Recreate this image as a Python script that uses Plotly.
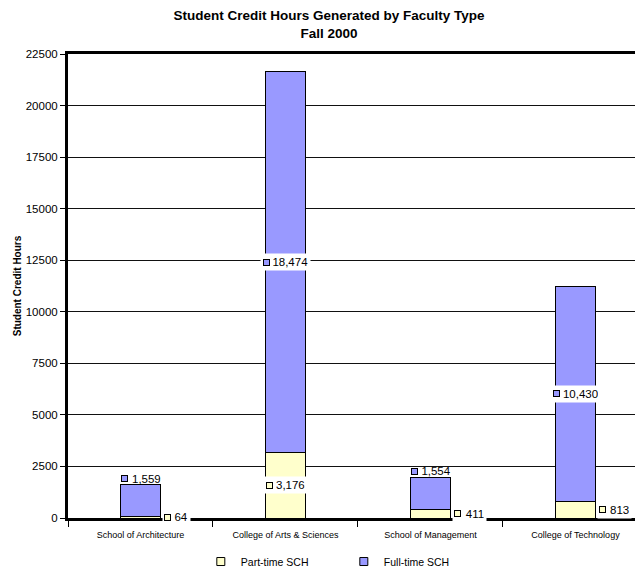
import plotly.graph_objects as go

# ---- data ----
categories = ["School of Architecture", "College of Arts & Sciences",
              "School of Management", "College of Technology"]
part_time = [64, 3176, 411, 813]
full_time = [1559, 18474, 1554, 10430]
series_names = ["Part-time SCH", "Full-time SCH"]
y_ticks = [0, 2500, 5000, 7500, 10000, 12500, 15000, 17500, 20000, 22500]

# ---- styles ----
PART_COLOR = "#FFFFCC"
FULL_COLOR = "#9999FF"
FONT = "Arial, Liberation Sans, sans-serif"
BAR_W = 0.28
PX_PER_CAT = 146.0
full_label_mode = ["above", "center", "above", "center"]
part_label_mode = ["right", "center", "right", "right"]

fig = go.Figure()
fig.add_trace(go.Bar(x=categories, y=part_time, name=series_names[0], width=BAR_W,
                     marker=dict(color=PART_COLOR, line=dict(color="black", width=1)),
                     showlegend=False))
fig.add_trace(go.Bar(x=categories, y=full_time, name=series_names[1], width=BAR_W,
                     marker=dict(color=FULL_COLOR, line=dict(color="black", width=1)),
                     showlegend=False))
# legend entries
for nm, col in zip(series_names, [PART_COLOR, FULL_COLOR]):
    fig.add_trace(go.Scatter(x=[None], y=[None], mode="markers", name=nm,
                             marker=dict(symbol="square", size=8, color=col,
                                         line=dict(color="black", width=1))))

LBL_FS = 11.5
PAD = 2
SQ = 9  # room reserved for the square


def text_w(s, fs):
    w = 0.0
    for ch in s:
        w += 0.278 if ch in ",." else 0.556
    return w * fs


annotations = []
half_bar_px = BAR_W * PX_PER_CAT / 2


def add_label(xc, y, val, color, mode):
    txt = f"{val:,}"
    W = SQ + text_w(txt, LBL_FS) + 1
    if mode == "center":
        xanchor, xshift, yshift = "center", 0, 0
        left = -W / 2 - PAD
        bg = "white"
    elif mode == "right":
        xanchor, xshift, yshift = "left", half_bar_px + 1.5, 0
        left = xshift
        bg = "white"
    else:  # above
        xanchor, xshift, yshift = "left", -half_bar_px - PAD + 1, 6
        left = xshift
        bg = "rgba(0,0,0,0)"
    annotations.append(dict(x=xc, y=y, xref="x", yref="y", text=txt, showarrow=False,
                            xanchor=xanchor, yanchor="middle", xshift=xshift, yshift=yshift,
                            width=W, align="right", bgcolor=bg, borderpad=PAD,
                            font=dict(size=LBL_FS, family=FONT, color="black")))
    annotations.append(dict(x=xc, y=y, xref="x", yref="y", text=" ", showarrow=False,
                            xanchor="left", yanchor="middle", xshift=left + PAD,
                            yshift=yshift, width=5, height=5, borderpad=0, borderwidth=1,
                            bgcolor=color, bordercolor="black", font=dict(size=1)))


for i, cat in enumerate(categories):
    p, f = part_time[i], full_time[i]
    add_label(cat, p / 2, p, PART_COLOR, part_label_mode[i])
    fy = p + f / 2 if full_label_mode[i] == "center" else p + f
    add_label(cat, fy, f, FULL_COLOR, full_label_mode[i])

# page body adds an offset; compensate
OFF_X = 8
OFF_Y = 6
fig.update_layout(
    width=643, height=576,
    margin=dict(l=64 - OFF_X, r=OFF_X, t=52 - OFF_Y, b=55 + OFF_Y),
    barmode="stack",
    plot_bgcolor="white", paper_bgcolor="white",
    font=dict(family=FONT, color="black"),
    title=dict(text="<b>Student Credit Hours Generated by Faculty Type<br>Fall 2000</b>",
               x=(329 - OFF_X) / 643, xanchor="center", y=1 - 12 / 576, yanchor="top",
               yref="container", font=dict(size=13.5, family=FONT, color="black")),
    xaxis=dict(type="category", categoryarray=categories, range=[-0.5, 3.466],
               showgrid=False, showline=True, linewidth=3, linecolor="black", mirror=True,
               ticks="outside", tickson="boundaries", ticklen=6, tickcolor="black",
               ticklabelstandoff=6,
               tickfont=dict(size=9, family=FONT, color="black")),
    yaxis=dict(range=[0, 22500], tickvals=y_ticks, tickformat="d",
               showgrid=True, gridcolor="#111111", gridwidth=1, zeroline=False,
               showline=True, linewidth=3, linecolor="black",
               ticks="outside", ticklen=5, tickcolor="black",
               tickfont=dict(size=11.5, family=FONT, color="black"),
               title=dict(text="<b>Student Credit Hours</b>", standoff=3,
                          font=dict(size=10, family=FONT, color="black"))),
    legend=dict(orientation="h", x=0.231, xanchor="left", y=-0.0938, yanchor="middle",
                traceorder="normal",
                font=dict(size=10.5, family=FONT, color="black"),
                entrywidth=98, entrywidthmode="pixels", itemwidth=30),
    annotations=annotations,
)

fig.write_html("out.html")
